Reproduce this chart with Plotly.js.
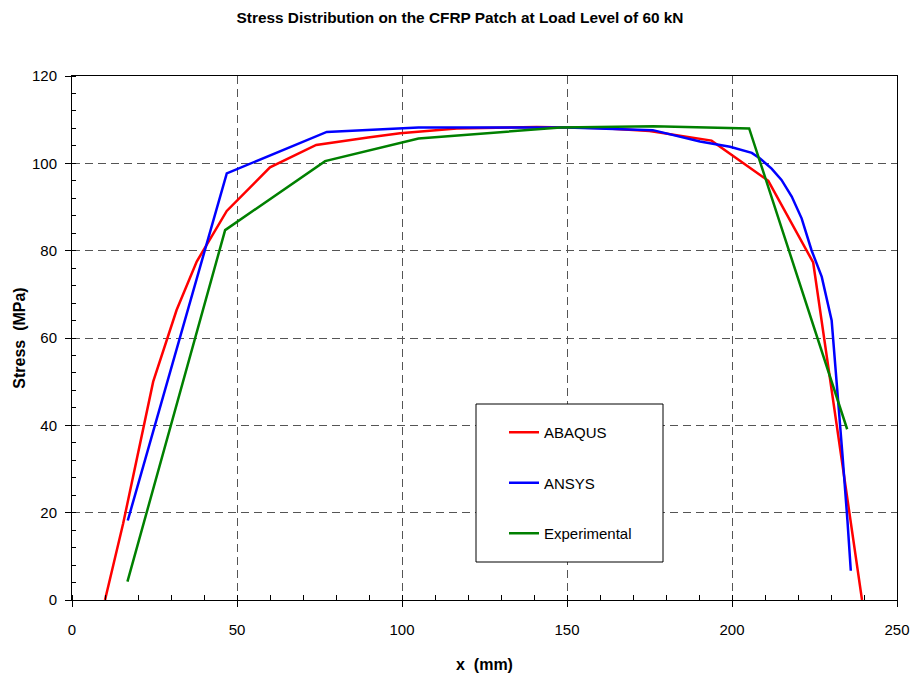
<!DOCTYPE html>
<html>
<head>
<meta charset="utf-8">
<script src="https://cdn.plot.ly/plotly-3.0.1.min.js"></script>
<style>html,body{margin:0;padding:0;background:#fff;}#chart{width:913px;height:679px;}</style>
</head>
<body>
<div id="chart"></div>
<script>
// ABAQUS
const abaqusX = [10, 15.5, 24.6, 31.7, 37.8, 46.9, 60, 74, 89.7, 99.4, 116.6, 140.8, 160, 175, 193.8, 211, 224.6, 239.4];
const abaqusY = [0, 17.5, 50, 66.4, 77.5, 89.1, 99.1, 104.2, 105.9, 106.9, 108, 108.3, 108.1, 107.4, 105.2, 96, 77.3, 0];
// ANSYS
const ansysX = [16.9, 46.9, 77.2, 105, 150, 176, 190.3, 199.4, 206, 208.5, 212, 215, 218.1, 221.1, 224.1, 227.2, 230.2, 232, 233.5, 235, 236];
const ansysY = [18.2, 97.7, 107.2, 108.2, 108.2, 107.6, 105, 103.8, 102.4, 101.1, 98.8, 96.2, 92.4, 87.4, 80.1, 74, 64, 48, 33, 18, 6.7];
// Experimental
const expX = [16.8, 46.4, 76.7, 105, 148, 176.2, 205.2, 234.9];
const expY = [4.2, 84.7, 100.5, 105.7, 108.2, 108.5, 108, 39.1];

const seriesNames = ['ABAQUS', 'ANSYS', 'Experimental'];
const seriesColors = ['#FF0000', '#0000FF', '#008000'];

const sans = '"Liberation Sans", Arial, sans-serif';

const data = [[abaqusX, abaqusY], [ansysX, ansysY], [expX, expY]].map((s, i) => ({
  x: s[0], y: s[1], type: 'scatter', mode: 'lines', name: seriesNames[i],
  legendgroup: 'g' + i,
  line: {color: seriesColors[i], width: 2.5}
}));

const L = 72, R = 16, T = 76, B = 79;
const W = 913, H = 679;
const pw = W - L - R, ph = H - T - B;
const px = v => (v - L) / pw;
const py = v => (H - B - v) / ph;

const layout = {
  width: W, height: H,
  margin: {l: L, r: R, t: T, b: B, pad: 0},
  paper_bgcolor: '#fff', plot_bgcolor: '#fff',
  showlegend: true,
  title: {
    text: '<b>Stress Distribution on the CFRP Patch at Load Level of 60 kN</b>',
    font: {family: sans, size: 15.4, color: '#000'},
    xref: 'container', yref: 'container', x: 460 / W, y: 1 - 18 / H,
    xanchor: 'center', yanchor: 'middle'
  },
  xaxis: {
    range: [0, 250], dtick: 50, tick0: 0,
    showline: true, linecolor: '#000', linewidth: 1, mirror: true,
    ticks: 'outside', ticklen: 6, tickcolor: '#000', tickwidth: 1,
    ticklabelstandoff: 10,
    tickfont: {family: sans, size: 15, color: '#000'},
    showgrid: true, gridcolor: '#555', gridwidth: 1, griddash: '8px,5px',
    zeroline: false,
    minor: {dtick: 10, ticks: 'inside', ticklen: 5, tickcolor: '#000', showgrid: false},
    title: {text: '<b>x  (mm)</b>', font: {family: sans, size: 16, color: '#000'}, standoff: 21}
  },
  yaxis: {
    range: [0, 120], dtick: 20, tick0: 0,
    showline: true, linecolor: '#000', linewidth: 1, mirror: true,
    ticks: 'outside', ticklen: 6, tickcolor: '#000', tickwidth: 1,
    ticklabelstandoff: 5,
    tickfont: {family: sans, size: 15, color: '#000'},
    showgrid: true, gridcolor: '#555', gridwidth: 1, griddash: '8px,5px',
    zeroline: false,
    minor: {dtick: 4, ticks: 'inside', ticklen: 4, tickcolor: '#000', showgrid: false},
    title: {text: '<b>Stress  (MPa)</b>', font: {family: sans, size: 16, color: '#000'}, standoff: 2}
  },
  legend: {
    x: px(504), y: py(416), xanchor: 'left', yanchor: 'top',
    bgcolor: 'rgba(0,0,0,0)', borderwidth: 0,
    font: {family: sans, size: 15, color: '#000'},
    traceorder: 'grouped', tracegroupgap: 28
  },
  shapes: [{
    type: 'rect', xref: 'paper', yref: 'paper',
    x0: px(476), x1: px(663), y0: py(562), y1: py(404),
    line: {color: '#000', width: 1}, fillcolor: '#fff', layer: 'above'
  }]
};

Plotly.newPlot('chart', data, layout, {displayModeBar: false, staticPlot: true});
</script>
</body>
</html>
